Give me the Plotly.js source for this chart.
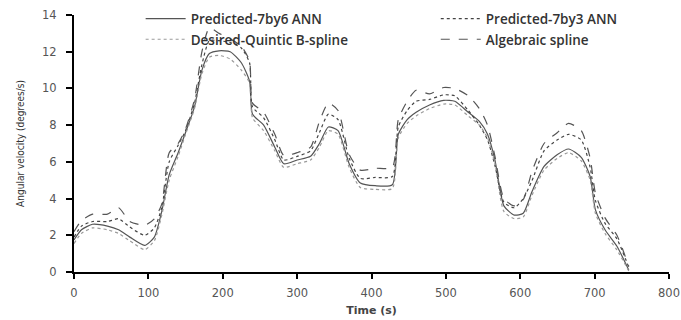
<!DOCTYPE html>
<html><head><meta charset="utf-8">
<script src="https://cdn.plot.ly/plotly-3.0.1.min.js"></script>
<style>html,body{margin:0;padding:0;background:#fff}#c{width:681px;height:320px}</style>
</head><body><div id="c"></div>
<script>
const time = [0,10,25,45,60,75,95,108,118,128,140,150,162,172,182,195,210,225,236,240,255,270,282,300,318,330,342,355,370,385,405,428,436,448,460,478,497,512,530,545,556,566,578,592,604,616,632,650,665,682,694,701,714,730,746];
const pred7by6 = [1.75,2.3,2.6,2.5,2.3,1.9,1.45,1.9,3.3,5.3,6.5,7.6,9.0,11.0,11.9,12.05,12.0,11.4,10.4,8.6,8.0,6.8,5.9,6.1,6.3,7.0,7.9,7.7,5.9,4.85,4.7,4.75,7.5,8.3,8.7,9.1,9.35,9.3,8.7,8.2,7.5,6.1,3.6,3.1,3.2,4.4,5.75,6.4,6.7,6.25,5.2,3.4,2.3,1.4,0.1];
const pred7by3 = [1.9,2.5,2.75,2.75,2.9,2.45,2.0,2.4,3.5,6.0,6.9,7.7,9.2,11.3,12.6,12.6,12.5,12.2,11.4,9.0,8.4,7.2,6.1,6.3,6.6,7.6,8.6,8.3,6.2,5.1,5.15,5.2,7.9,8.8,9.3,9.4,9.65,9.6,8.8,8.0,7.2,5.8,3.8,3.5,4.0,5.0,6.6,7.2,7.5,7.2,5.7,3.9,2.65,1.8,0.25];
const desired = [1.55,2.1,2.4,2.3,2.1,1.7,1.22,1.7,3.1,5.0,6.3,7.5,8.9,10.8,11.7,11.8,11.6,11.0,10.3,8.4,7.7,6.6,5.7,5.9,6.1,6.8,7.7,7.5,5.7,4.6,4.5,4.55,7.3,8.1,8.5,8.9,9.15,9.1,8.5,8.0,7.3,5.9,3.3,2.9,3.0,4.2,5.55,6.2,6.5,6.05,5.0,3.2,2.1,1.2,0.05];
const algebraic = [2.2,2.8,3.15,3.15,3.5,2.75,2.55,2.9,3.7,6.5,7.0,7.8,9.4,12.0,13.3,13.0,12.7,12.3,11.5,9.2,8.7,7.5,6.35,6.5,6.8,8.2,9.2,8.8,6.4,5.55,5.65,5.7,8.3,9.3,9.9,9.7,10.05,10.0,9.6,8.9,8.0,6.3,4.0,3.6,3.95,5.5,7.0,7.6,8.1,7.7,6.2,4.3,2.95,2.0,0.3];
const xTicks = [0,100,200,300,400,500,600,700,800];
const yTicks = [0,2,4,6,8,10,12,14];

const mk = (y, name, color, dash, lg, grp) => ({
  x: time, y: y, name: name, type: 'scatter', mode: 'lines', legend: lg, legendgroup: grp,
  line: {color: color, dash: dash, width: 1.2, shape: 'spline', smoothing: 0.6}
});
const data = [
  mk(pred7by6, 'Predicted-7by6 ANN', '#555555', 'solid', 'legend', 'a'),
  mk(pred7by3, 'Predicted-7by3 ANN', '#444444', 'dot', 'legend2', 'b'),
  mk(desired, 'Desired-Quintic B-spline', '#9a9a9a', 'dot', 'legend', 'c'),
  mk(algebraic, 'Algebraic spline', '#555555', 'dash', 'legend2', 'd')
];
const legFont = {family: 'Open Sans, Liberation Sans, sans-serif', size: 13.5, color: '#333', weight: 600};
const legBase = {orientation: 'v', yanchor: 'top', xanchor: 'left', bgcolor: 'rgba(0,0,0,0)',
  font: legFont, tracegroupgap: 0, itemwidth: 40};
const layout = {
  width: 681, height: 320,
  margin: {l: 74, r: 12, t: 15, b: 48, autoexpand: false},
  paper_bgcolor: '#fff', plot_bgcolor: '#fff',
  showlegend: true,
  legend: Object.assign({}, legBase, {x: 0.112, y: 1.045}),
  legend2: Object.assign({}, legBase, {x: 0.608, y: 1.045}),
  xaxis: {range: [0, 800], tickvals: xTicks, ticktext: xTicks.map(String),
    showgrid: false, zeroline: false, showline: true, linecolor: '#000', linewidth: 2,
    ticks: 'outside', ticklen: 5, tickwidth: 2, tickcolor: '#000', ticklabelstandoff: 4,
    tickfont: {family: 'DejaVu Sans, sans-serif', size: 11.5, color: '#555'},
    title: {text: '<b>Time (s)</b>', font: {family: 'DejaVu Sans, sans-serif', size: 11, color: '#444'}, standoff: 8}},
  yaxis: {range: [0, 14], tickvals: yTicks, ticktext: yTicks.map(String),
    showgrid: false, zeroline: false, showline: true, linecolor: '#000', linewidth: 2,
    ticks: 'outside', ticklen: 6, tickwidth: 2, tickcolor: '#000', ticklabelstandoff: 7,
    tickfont: {family: 'DejaVu Sans, sans-serif', size: 11.5, color: '#555'},
    title: {text: 'Angular velocity (degrees/s)', font: {family: 'Liberation Sans Narrow, DejaVu Sans Condensed, sans-serif', size: 10, color: '#333'}, standoff: 16}}
};
Plotly.newPlot('c', data, layout, {staticPlot: true, displayModeBar: false});
</script></body></html>
